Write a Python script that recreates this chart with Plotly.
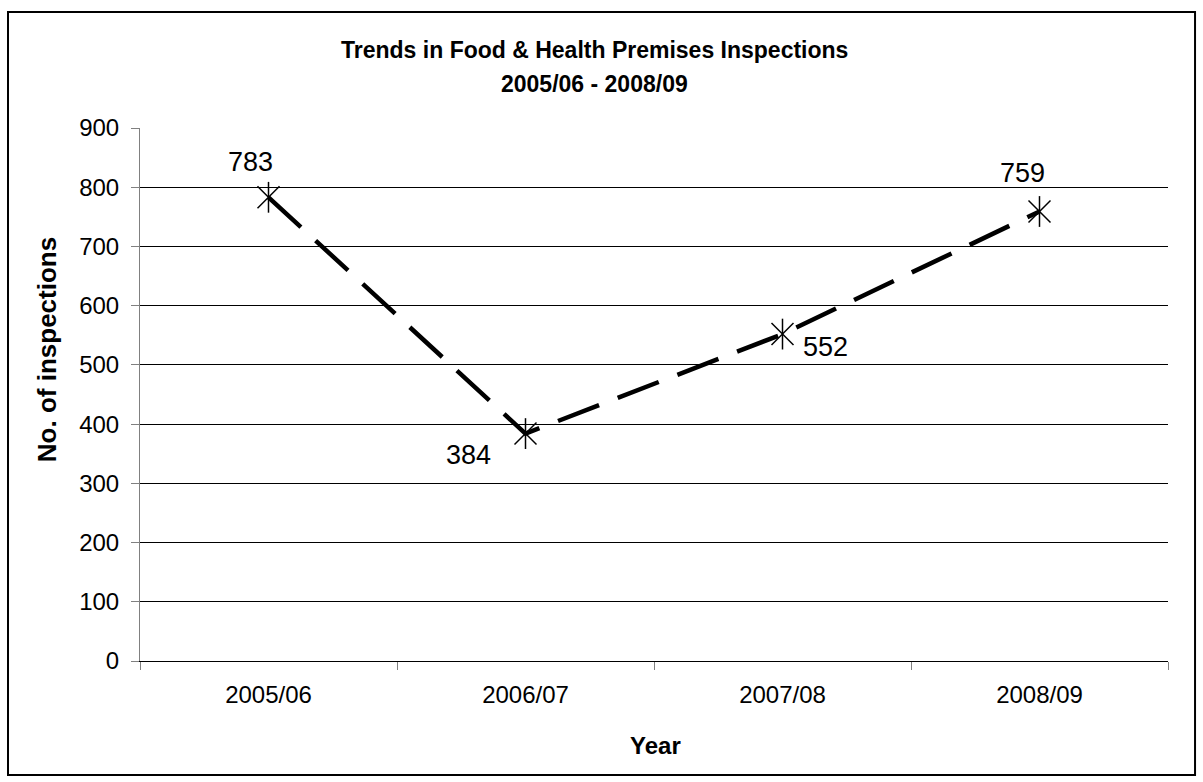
import plotly.graph_objects as go

years = ["2005/06", "2006/07", "2007/08", "2008/09"]
inspections = [783, 384, 552, 759]
label_xshift = [-18, -57, 43, -17]
label_yshift = [35, -21, -13, 39]

FONT = "Liberation Sans, Arial, sans-serif"

fig = go.Figure()
fig.add_trace(go.Scatter(
    x=years, y=inspections, mode="lines",
    line=dict(color="black", width=4.5, dash="44px,20px"),
    hoverinfo="skip", showlegend=False))
fig.add_trace(go.Scatter(
    x=years, y=inspections, mode="markers",
    marker=dict(symbol="x-thin-open", size=22, color="black",
                line=dict(color="black", width=1.5)),
    showlegend=False))
fig.add_trace(go.Scatter(
    x=years, y=inspections, mode="markers",
    marker=dict(symbol="line-ns-open", size=22, color="black",
                line=dict(color="black", width=1.5)),
    showlegend=False))

for yr, v, dx, dy in zip(years, inspections, label_xshift, label_yshift):
    fig.add_annotation(x=yr, y=v, text=str(v), showarrow=False,
                       xshift=dx, yshift=dy, xanchor="center", yanchor="middle",
                       font=dict(family=FONT, size=27, color="black"))

# titles (paper coords: plot area x 140..1168, y 128..661)
fig.add_annotation(xref="paper", yref="paper", x=0.4426, y=1.1463,
                   xanchor="center", yanchor="middle",
                   text="<b>Trends in Food &amp; Health Premises Inspections</b>",
                   showarrow=False, font=dict(family=FONT, size=23, color="black"))
fig.add_annotation(xref="paper", yref="paper", x=0.4426, y=1.0826,
                   xanchor="center", yanchor="middle",
                   text="<b>2005/06 - 2008/09</b>",
                   showarrow=False, font=dict(family=FONT, size=23, color="black"))
fig.add_annotation(xref="paper", yref="paper", x=-0.0905, y=0.585,
                   xanchor="center", yanchor="middle",
                   text="<b>No. of inspections</b>", textangle=-90,
                   showarrow=False, font=dict(family=FONT, size=26, color="black"))
fig.add_annotation(xref="paper", yref="paper", x=0.501, y=-0.1576,
                   xanchor="center", yanchor="middle",
                   text="<b>Year</b>",
                   showarrow=False, font=dict(family=FONT, size=24, color="black"))

# outer border
fig.add_shape(type="rect", xref="paper", yref="paper",
              x0=-0.1284, x1=1.0263, y0=-0.2139, y1=1.2176,
              line=dict(color="black", width=2), fillcolor="rgba(0,0,0,0)")

fig.update_layout(
    width=1203, height=782,
    margin=dict(l=140, r=35, t=128, b=121),
    paper_bgcolor="white", plot_bgcolor="white",
    font=dict(family=FONT, color="black"),
    xaxis=dict(type="category", range=[-0.5, 3.5], tickson="boundaries",
               ticks="outside", ticklen=8, tickcolor="#808080",
               ticklabelstandoff=12,
               showgrid=False, showline=True, linecolor="black",
               tickfont=dict(size=24, family=FONT), zeroline=False),
    yaxis=dict(range=[0, 900], dtick=100, ticks="outside", ticklen=8,
               tickcolor="#808080", ticklabelstandoff=7,
               showgrid=True, gridcolor="black", gridwidth=1,
               showline=True, linecolor="#808080", zeroline=False,
               tickfont=dict(size=24, family=FONT)),
)

fig.write_html("out.html")
